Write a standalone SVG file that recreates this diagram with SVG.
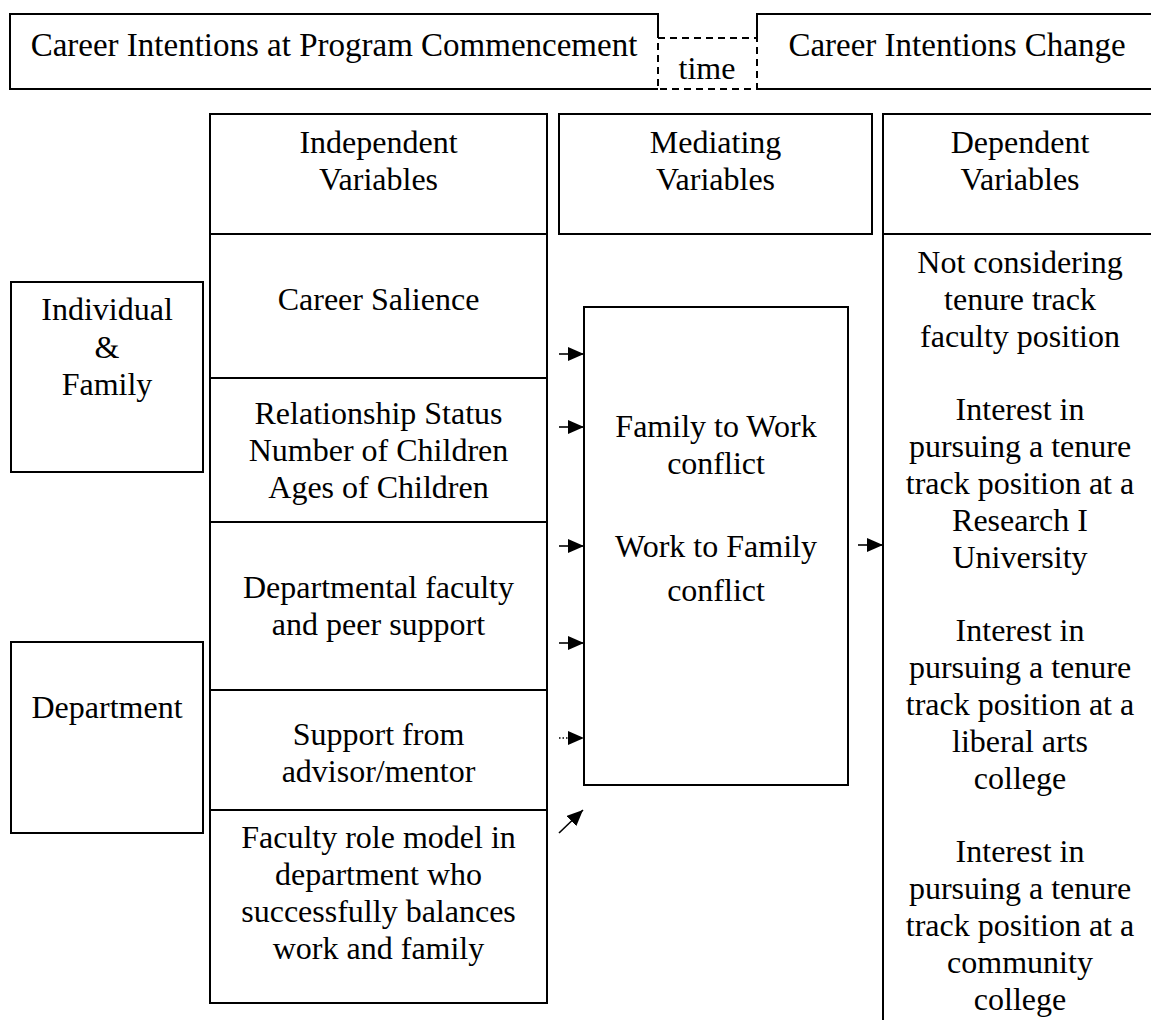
<svg xmlns="http://www.w3.org/2000/svg" width="1151" height="1020" viewBox="0 0 1151 1020">
<defs>
<style>
text{font-family:"Liberation Serif","Times New Roman",serif;font-size:32px;fill:#000;text-anchor:middle}
.big{font-size:33px}
.box{fill:#fff;stroke:#000;stroke-width:2}
.ln{fill:none;stroke:#000;stroke-width:2}
.dash{fill:none;stroke:#000;stroke-width:2;stroke-dasharray:7 5}
.arr{fill:none;stroke:#000;stroke-width:1.6;marker-end:url(#ah)}
.dot{stroke-dasharray:1.5 2}
</style>
<marker id="ah" viewBox="0 0 16 14" refX="16" refY="7" markerWidth="16" markerHeight="14" markerUnits="userSpaceOnUse" orient="auto">
<path d="M0,0 L16,7 L0,14 z" fill="#000"/>
</marker>
</defs>
<rect width="1151" height="1020" fill="#fff"/>

<g id="commencement">
<path class="ln" d="M658,38 V14 H10 V89 H658"/>
<text class="big" x="334" y="56">Career Intentions at Program Commencement</text>
</g>
<g id="time">
<rect class="dash" x="658" y="38" width="99" height="51"/>
<text x="707" y="79">time</text>
</g>
<g id="change">
<path class="ln" d="M757,38 V14 H1160 M757,89 H1160"/>
<text class="big" x="957" y="56">Career Intentions Change</text>
</g>

<g id="individual-family">
<rect class="box" x="11" y="282" width="192" height="190"/>
<text x="107" y="320">Individual</text>
<text x="107" y="358">&amp;</text>
<text x="107" y="395">Family</text>
</g>
<g id="department">
<rect class="box" x="11" y="642" width="192" height="191"/>
<text x="107" y="718">Department</text>
</g>

<g id="independent">
<rect class="box" x="210" y="114" width="337" height="889"/>
<path class="ln" d="M210,234 H547 M210,378 H547 M210,522 H547 M210,690 H547 M210,810 H547"/>
<text x="378.5" y="153">Independent</text>
<text x="378.5" y="190">Variables</text>
</g>
<g id="career-salience"><text x="378.5" y="310">Career Salience</text></g>
<g id="relationship">
<text x="378.5" y="424">Relationship Status</text>
<text x="378.5" y="461">Number of Children</text>
<text x="378.5" y="498">Ages of Children</text>
</g>
<g id="departmental-support">
<text x="378.5" y="598">Departmental faculty</text>
<text x="378.5" y="635">and peer support</text>
</g>
<g id="advisor-support">
<text x="378.5" y="745">Support from</text>
<text x="378.5" y="782">advisor/mentor</text>
</g>
<g id="role-model">
<text x="378.5" y="848">Faculty role model in</text>
<text x="378.5" y="885">department who</text>
<text x="378.5" y="922">successfully balances</text>
<text x="378.5" y="959">work and family</text>
</g>

<g id="mediating-header">
<rect class="box" x="559" y="114" width="313" height="120"/>
<text x="715.5" y="153">Mediating</text>
<text x="715.5" y="190">Variables</text>
</g>
<g id="mediating">
<rect class="box" x="584" y="307" width="264" height="478"/>
<text x="716" y="437">Family to Work</text>
<text x="716" y="474">conflict</text>
<text x="716" y="557">Work to Family</text>
<text x="716" y="601">conflict</text>
</g>

<g id="dependent">
<path class="ln" d="M883,1020 V114 H1160 M883,234 H1160"/>
<text x="1020" y="153">Dependent</text>
<text x="1020" y="190">Variables</text>
<text x="1020" y="273">Not considering</text>
<text x="1020" y="310">tenure track</text>
<text x="1020" y="347">faculty position</text>
<text x="1020" y="420">Interest in</text>
<text x="1020" y="457">pursuing a tenure</text>
<text x="1020" y="494">track position at a</text>
<text x="1020" y="531">Research I</text>
<text x="1020" y="568">University</text>
<text x="1020" y="641">Interest in</text>
<text x="1020" y="678">pursuing a tenure</text>
<text x="1020" y="715">track position at a</text>
<text x="1020" y="752">liberal arts</text>
<text x="1020" y="789">college</text>
<text x="1020" y="862">Interest in</text>
<text x="1020" y="899">pursuing a tenure</text>
<text x="1020" y="936">track position at a</text>
<text x="1020" y="973">community</text>
<text x="1020" y="1010">college</text>
</g>

<g id="connectors">
<line class="arr" x1="559" y1="354" x2="584" y2="354"/>
<line class="arr" x1="559" y1="427" x2="584" y2="427"/>
<line class="arr" x1="559" y1="546" x2="584" y2="546"/>
<line class="arr" x1="559" y1="643" x2="584" y2="643"/>
<line class="arr dot" x1="559" y1="738" x2="584" y2="738"/>
<line class="arr" x1="559" y1="833" x2="583" y2="810"/>
<line class="arr" x1="858" y1="545" x2="883" y2="545"/>
</g>
</svg>
